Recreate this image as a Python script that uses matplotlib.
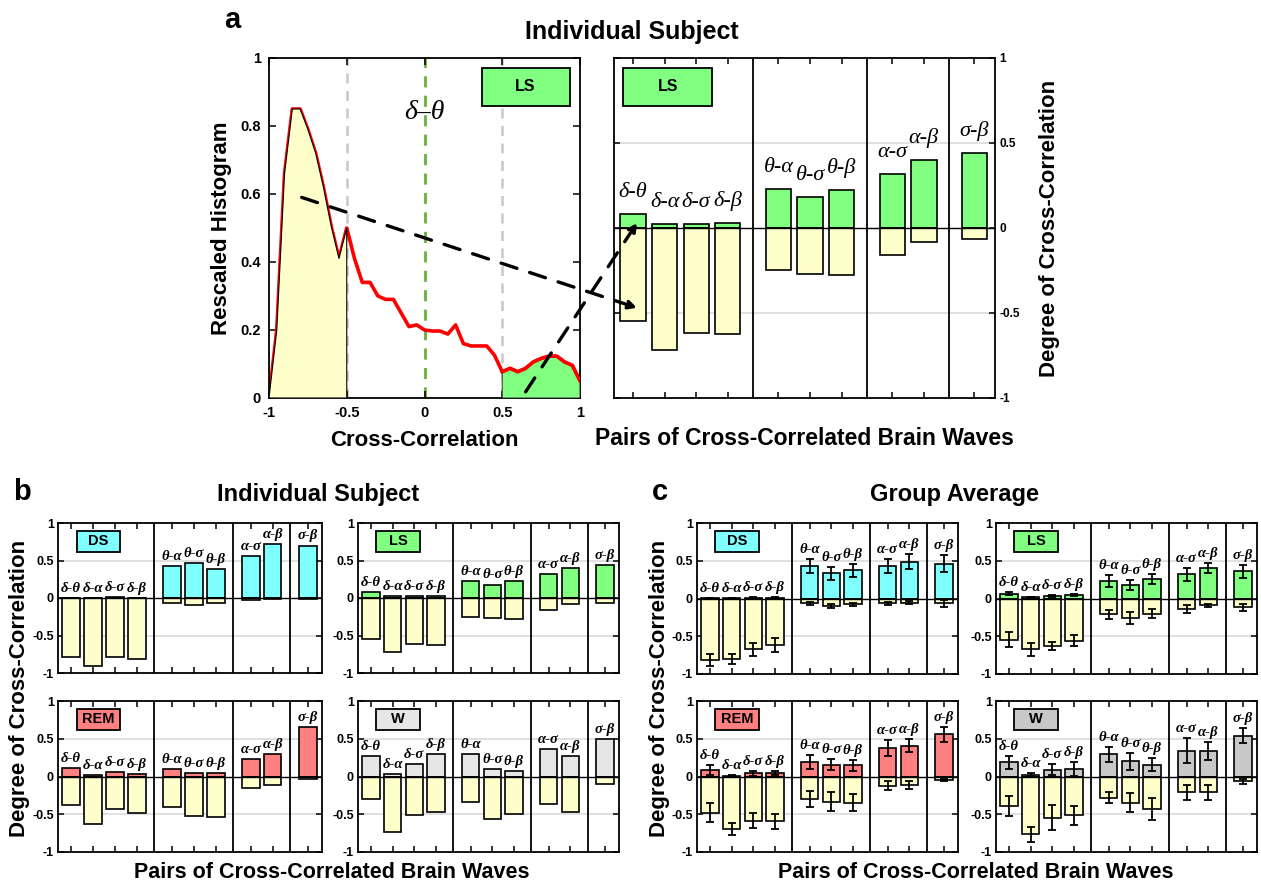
import numpy as np
import matplotlib
matplotlib.use("Agg")
import matplotlib.pyplot as plt
from matplotlib.patches import Rectangle, ConnectionPatch

plt.rcParams['font.family'] = ['Liberation Sans', 'DejaVu Sans']
plt.rcParams['font.weight'] = 'bold'
plt.rcParams['axes.linewidth'] = 1.3

# ---- data ----
pair_labels = ['δ-θ', 'δ-α', 'δ-σ', 'δ-β', 'θ-α', 'θ-σ', 'θ-β', 'α-σ', 'α-β', 'σ-β']
group_sizes = [4, 3, 2, 1]

hist_x = [-1.00, -0.95, -0.90, -0.85, -0.80, -0.75, -0.70, -0.65, -0.60, -0.55,
          -0.50, -0.45, -0.40, -0.35, -0.30, -0.25, -0.20, -0.15, -0.10, -0.05,
          0.00, 0.05, 0.10, 0.15, 0.20, 0.25, 0.30, 0.35, 0.40, 0.45,
          0.50, 0.55, 0.60, 0.65, 0.70, 0.75, 0.80, 0.85, 0.90, 0.95, 1.00]
hist_y = [0.00, 0.20, 0.66, 0.85, 0.85, 0.79, 0.72, 0.62, 0.505, 0.41,
          0.50, 0.41, 0.34, 0.34, 0.30, 0.29, 0.29, 0.25, 0.21, 0.215,
          0.20, 0.197, 0.197, 0.188, 0.215, 0.16, 0.153, 0.153, 0.153, 0.126,
          0.077, 0.087, 0.077, 0.087, 0.106, 0.116, 0.123, 0.123, 0.106, 0.096, 0.05]

ind_ds_pos = [0.0, 0.0, 0.013, 0.0, 0.427, 0.467, 0.39, 0.564, 0.72, 0.70]
ind_ds_neg = [-0.78, -0.90, -0.78, -0.81, -0.067, -0.093, -0.067, -0.03, -0.013, -0.018]
ind_ls_pos = [0.085, 0.022, 0.022, 0.03, 0.23, 0.18, 0.225, 0.318, 0.40, 0.44]
ind_ls_neg = [-0.55, -0.715, -0.615, -0.625, -0.25, -0.268, -0.278, -0.158, -0.082, -0.065]
ind_rem_pos = [0.114, 0.026, 0.053, 0.035, 0.096, 0.048, 0.048, 0.232, 0.303, 0.654]
ind_rem_neg = [-0.377, -0.627, -0.425, -0.478, -0.40, -0.518, -0.53, -0.158, -0.114, -0.03]
ind_w_pos = [0.268, 0.03, 0.167, 0.303, 0.303, 0.10, 0.075, 0.368, 0.268, 0.50]
ind_w_neg = [-0.298, -0.737, -0.504, -0.465, -0.338, -0.566, -0.50, -0.364, -0.465, -0.10]

grp_ds_pos = [0.005, 0.005, 0.01, 0.012, 0.425, 0.333, 0.373, 0.425, 0.49, 0.46]
grp_ds_pos_err = [0.005, 0.005, 0.008, 0.008, 0.092, 0.09, 0.088, 0.092, 0.10, 0.11]
grp_ds_neg = [-0.816, -0.80, -0.675, -0.62, -0.066, -0.096, -0.079, -0.066, -0.053, -0.066]
grp_ds_neg_err = [0.08, 0.07, 0.083, 0.095, 0.02, 0.025, 0.025, 0.02, 0.025, 0.04]

grp_ls_pos = [0.066, 0.02, 0.035, 0.044, 0.232, 0.184, 0.259, 0.32, 0.40, 0.364]
grp_ls_pos_err = [0.015, 0.005, 0.01, 0.015, 0.075, 0.066, 0.065, 0.083, 0.066, 0.086]
grp_ls_neg = [-0.544, -0.675, -0.63, -0.557, -0.206, -0.263, -0.20, -0.14, -0.092, -0.118]
grp_ls_neg_err = [0.095, 0.08, 0.057, 0.075, 0.06, 0.08, 0.06, 0.053, 0.022, 0.05]

grp_rem_pos = [0.092, 0.013, 0.04, 0.044, 0.189, 0.158, 0.149, 0.38, 0.408, 0.56]
grp_rem_pos_err = [0.066, 0.008, 0.03, 0.03, 0.094, 0.077, 0.073, 0.107, 0.088, 0.097]
grp_rem_neg = [-0.482, -0.693, -0.583, -0.592, -0.298, -0.333, -0.346, -0.123, -0.11, -0.048]
grp_rem_neg_err = [0.127, 0.08, 0.095, 0.10, 0.107, 0.123, 0.11, 0.057, 0.055, 0.015]

grp_w_pos = [0.189, 0.022, 0.092, 0.10, 0.294, 0.20, 0.158, 0.342, 0.338, 0.54]
grp_w_pos_err = [0.085, 0.02, 0.068, 0.088, 0.096, 0.115, 0.088, 0.162, 0.114, 0.10]
grp_w_neg = [-0.39, -0.763, -0.544, -0.513, -0.28, -0.346, -0.425, -0.21, -0.206, -0.061]
grp_w_neg_err = [0.13, 0.10, 0.17, 0.123, 0.075, 0.13, 0.145, 0.10, 0.10, 0.033]

YELLOW = '#FFFFCC'
STATE_COLORS = {'DS': '#80FFFF', 'LS': '#80FF80', 'REM': '#FF8080', 'W': '#E6E6E6'}
SERIF = ['Liberation Serif', 'DejaVu Serif']

W, H = 1261, 885
fig = plt.figure(figsize=(W / 100, H / 100), dpi=100)


def px_axes(left, top, right, bottom):
    """Add an axes from pixel edges."""
    return fig.add_axes([left / W, 1 - bottom / H, (right - left) / W, (bottom - top) / H])


def bar_positions():
    xs, seps = [], []
    x = 1.0
    for n in group_sizes:
        for i in range(n):
            xs.append(x + i)
        last = x + n - 1
        seps.append(last + 0.8)
        x = last + 1.6
    return np.array(xs), seps[:-1]


def bar_panel(ax, pos, neg, state, color=None, pos_err=None, neg_err=None, label_size=10.5,
              label_weight='bold', label_off=0.04, tick_size=9, box=(1.25, 0.61, 2.0, 0.29),
              box_size=10.5, yright=False):
    """Split bars: positive part in the state colour, negative part in yellow."""
    color = color or STATE_COLORS[state]
    x, seps = bar_positions()
    for g in (0.5, -0.5):
        ax.axhline(g, color='#DADADA', lw=1.2, zorder=0)
    ax.bar(x, pos, width=0.8, color=color, edgecolor='black', lw=1.2, zorder=2)
    ax.bar(x, neg, width=0.8, color=YELLOW, edgecolor='black', lw=1.2, zorder=2)
    ax.axhline(0, color='black', lw=1.0, zorder=3)
    if pos_err is not None:
        ax.errorbar(x, pos, yerr=pos_err, fmt='none', ecolor='black', capsize=3,
                    elinewidth=1.3, capthick=1.3, zorder=4)
        ax.errorbar(x, neg, yerr=neg_err, fmt='none', ecolor='black', capsize=3,
                    elinewidth=1.3, capthick=1.3, zorder=4)
    for s in seps:
        ax.axvline(s, color='black', lw=1.3, zorder=3)
    bx, by, bw, bh = box
    ax.add_patch(Rectangle((bx, by), bw, bh, facecolor=color,
                           edgecolor='black', lw=1.3, zorder=5))
    ax.text(bx + bw / 2, by + bh / 2, state, ha='center', va='center',
            fontsize=box_size, weight='bold', zorder=6)
    for i, lab in enumerate(pair_labels):
        top = max(pos[i], 0)
        if pos_err is not None:
            top += pos_err[i]
        ax.text(x[i], top + label_off, lab, ha='center', va='bottom', fontsize=label_size,
                family=SERIF, style='italic', weight=label_weight, zorder=6)
    ax.set_xlim(0.4, 12.45)
    ax.set_ylim(-1, 1)
    ax.set_xticks(x)
    ax.set_xticklabels([])
    ax.set_yticks([-1, -0.5, 0, 0.5, 1])
    ax.set_yticklabels(['-1', '-0.5', '0', '0.5', '1'])
    ax.tick_params(direction='in', top=True, right=True, length=4, width=1.1,
                   labelsize=tick_size, pad=3)
    if yright:
        ax.tick_params(labelleft=False, labelright=True)


# ---- panel a, histogram ----
ax_h = px_axes(269, 58, 580, 398)
ax_h.plot(hist_x, hist_y, color='red', lw=2.6, zorder=2)
hx = np.array(hist_x)
hy = np.array(hist_y)
m1 = hx <= -0.5
ax_h.fill(np.r_[hx[m1], -0.5, -1.0], np.r_[hy[m1], 0, 0], facecolor=YELLOW,
          edgecolor='black', lw=0.8, zorder=3)
m2 = hx >= 0.5
ax_h.fill(np.r_[0.5, hx[m2], 1.0], np.r_[0, hy[m2], 0], facecolor=STATE_COLORS['LS'],
          edgecolor='#444444', lw=0.8, zorder=3)
ax_h.plot(hx[m2], hy[m2], color='red', lw=2.6, zorder=4)
for v in (-0.5, 0.5):
    ax_h.plot([v, v], [0, 1], color='#C8C8C8', ls=(0, (4, 3)), lw=1.8, zorder=1)
ax_h.plot([0, 0], [0, 1], color='#6AAF3D', ls=(0, (4, 3)), lw=2.0, zorder=1)
ax_h.text(0.0, 0.84, 'δ–θ', ha='center', va='center', fontsize=20,
          family=SERIF, style='italic', weight='normal')
ax_h.add_patch(Rectangle((0.367, 0.86), 0.57, 0.11, facecolor=STATE_COLORS['LS'],
                         edgecolor='black', lw=1.3, zorder=5))
ax_h.text(0.65, 0.915, 'LS', ha='center', va='center', fontsize=11.5, weight='bold', zorder=6)
ax_h.set_xlim(-1, 1)
ax_h.set_ylim(0, 1)
ax_h.set_xticks([-1, -0.5, 0, 0.5, 1])
ax_h.set_xticklabels(['-1', '-0.5', '0', '0.5', '1'])
ax_h.set_yticks([0, 0.2, 0.4, 0.6, 0.8, 1])
ax_h.set_yticklabels(['0', '0.2', '0.4', '0.6', '0.8', '1'])
ax_h.tick_params(direction='in', top=True, right=True, length=5, width=1.1, labelsize=10.5, pad=6)
ax_h.set_xlabel('Cross-Correlation', fontsize=16, weight='bold', labelpad=7)
ax_h.set_ylabel('Rescaled Histogram', fontsize=16, weight='bold', labelpad=6)

# ---- panel a, bars ----
ax_r = px_axes(614, 58, 995, 398)
bar_panel(ax_r, ind_ls_pos, ind_ls_neg, 'LS', label_size=16, label_weight='normal',
          label_off=0.07, tick_size=8.5, box=(0.7, 0.72, 2.8, 0.22), box_size=11.5, yright=True)
ax_r.yaxis.set_label_position('right')
ax_r.set_ylabel('Degree of Cross-Correlation', fontsize=16, weight='bold', labelpad=14)
ax_r.set_xlabel('Pairs of Cross-Correlated Brain Waves', fontsize=16.5, weight='bold', labelpad=18)

# dashed arrows linking the panels
for start, end in [((-0.79, 0.59), (1.13, -0.47)), ((0.65, 0.018), (1.13, 0.03))]:
    con = ConnectionPatch(xyA=start, coordsA=ax_h.transData, xyB=end, coordsB=ax_r.transData,
                          arrowstyle='-|>', mutation_scale=12, ls=(0, (5, 4)), lw=2.4,
                          color='black', zorder=10)
    fig.add_artist(con)

# ---- panel b ----
ind_axes = [
    (px_axes(58, 523, 322, 673), ind_ds_pos, ind_ds_neg, 'DS'),
    (px_axes(358, 523, 619, 673), ind_ls_pos, ind_ls_neg, 'LS'),
    (px_axes(58, 701, 322, 852), ind_rem_pos, ind_rem_neg, 'REM'),
    (px_axes(358, 701, 619, 852), ind_w_pos, ind_w_neg, 'W'),
]
for ax, p, n, st in ind_axes:
    bar_panel(ax, p, n, st)

# ---- panel c ----
grp_axes = [
    (px_axes(697, 523, 958, 674), grp_ds_pos, grp_ds_pos_err, grp_ds_neg, grp_ds_neg_err, 'DS'),
    (px_axes(996, 523, 1257, 674), grp_ls_pos, grp_ls_pos_err, grp_ls_neg, grp_ls_neg_err, 'LS'),
    (px_axes(697, 701, 958, 852), grp_rem_pos, grp_rem_pos_err, grp_rem_neg, grp_rem_neg_err, 'REM'),
    (px_axes(996, 701, 1257, 852), grp_w_pos, grp_w_pos_err, grp_w_neg, grp_w_neg_err, 'W'),
]
for ax, p, pe, n, ne, st in grp_axes:
    # the group-average wake bars are a darker grey
    col = '#C8C8C8' if st == 'W' else None
    bar_panel(ax, p, n, st, color=col, pos_err=pe, neg_err=ne)


# ---- figure texts ----
def ftext(x, y, s, **kw):
    fig.text(x / W, 1 - y / H, s, ha='center', va='center', weight='bold', **kw)


ftext(232, 20, 'a', fontsize=21)
ftext(632, 32, 'Individual Subject', fontsize=18)
ftext(22, 492, 'b', fontsize=21)
ftext(318, 494, 'Individual Subject', fontsize=17)
ftext(660, 492, 'c', fontsize=21)
ftext(955, 494, 'Group Average', fontsize=17)
ftext(20, 688, 'Degree of Cross-Correlation', fontsize=16, rotation=90)
ftext(660, 688, 'Degree of Cross-Correlation', fontsize=16, rotation=90)
ftext(332, 872, 'Pairs of Cross-Correlated Brain Waves', fontsize=15.5)
ftext(976, 872, 'Pairs of Cross-Correlated Brain Waves', fontsize=15.5)

fig.savefig('out.png', dpi=100)
